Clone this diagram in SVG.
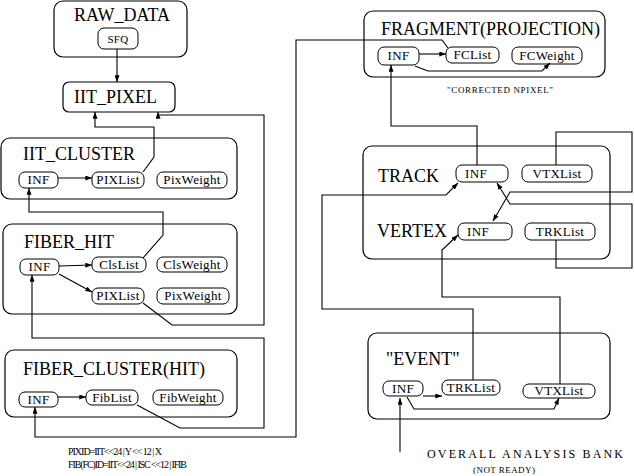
<svg xmlns="http://www.w3.org/2000/svg" width="634" height="476" viewBox="0 0 634 476">
<style>
.box{fill:none;stroke:#000;stroke-width:1.2}
.pill{fill:none;stroke:#000;stroke-width:1}
.t{font-family:"Liberation Serif","Times New Roman",serif;font-size:18px;fill:#000}
.s{font-family:"Liberation Serif","Times New Roman",serif;font-size:13px;fill:#000;text-anchor:middle;letter-spacing:0.3px}
.n{font-family:"Liberation Serif","Times New Roman",serif;font-size:10px;fill:#000}
.c{fill:none;stroke:#000;stroke-width:1.1}
.a{marker-end:url(#ah)}
</style>
<defs>
<marker id="ah" viewBox="0 0 8 6" refX="8" refY="3" markerWidth="7" markerHeight="5" markerUnits="userSpaceOnUse" orient="auto">
<path d="M0,0 L8,3 L0,6 z" fill="#000"/>
</marker>
</defs>
<rect width="634" height="476" fill="#fff"/>

<g id="connectors">
<path class="c a" d="M117,49 V82"/>
<path class="c a" d="M143,172 L154,157 V127 H95 V112"/>
<path class="c a" d="M143,303 L172,325 H264 V115 H158 V112"/>
<path class="c a" d="M58,178 H92"/>
<path class="c a" d="M143,258 L163,235 V212 H29 V188"/>
<path class="c a" d="M59,266 L92,265"/>
<path class="c a" d="M59,274 L92,292"/>
<path class="c a" d="M137,405 L180,428 H264 V338 H32 V275"/>
<path class="c a" d="M58,397 H86"/>
<path class="c a" d="M448,48 L442,40 H296 V437 H35 V407"/>
<path class="c a" d="M419,54 H446"/>
<path class="c a" d="M415,66 L428,71 H542 L550,63"/>
<path class="c a" d="M477,165 V126 H391 V65"/>
<path class="c a" d="M473,380 V309 H322 V195 H446 L458,183"/>
<path class="c a" d="M560,384 V297 H442 V250 L458,235"/>
<path class="c a" d="M556,165 V132 H632 V192 H510 L493,221"/>
<path class="c a" d="M556,240 V268 H632 V204 H510 L497,183"/>
<path class="c a" d="M423,396 H442"/>
<path class="c a" d="M407,397 L414,409 H554 L559,398"/>
<path class="c a" d="M400,452 V398"/>
</g>

<g id="raw_data">
<rect class="box" x="54" y="1" width="133" height="56" rx="9"/>
<text class="t" x="122" y="21" text-anchor="middle">RAW_DATA</text>
<rect class="pill" x="98" y="28" width="40" height="21" rx="6"/>
<text class="s" x="118" y="43" style="font-size:11px">SFQ</text>
</g>

<g id="iit_pixel">
<rect class="box" x="63" y="82" width="112" height="30" rx="6"/>
<text class="t" x="74" y="103">IIT_PIXEL</text>
</g>

<g id="iit_cluster">
<rect class="box" x="1" y="138" width="236" height="61" rx="9"/>
<text class="t" x="23" y="160">IIT_CLUSTER</text>
<rect class="pill" x="19" y="172" width="39" height="16" rx="6"/>
<text class="s" x="38.5" y="184">INF</text>
<rect class="pill" x="92" y="172" width="52" height="16" rx="6"/>
<text class="s" x="118" y="184">PIXList</text>
<rect class="pill" x="157" y="172" width="70" height="16" rx="6"/>
<text class="s" x="192" y="184">PixWeight</text>
</g>

<g id="fiber_hit">
<rect class="box" x="3" y="224" width="234" height="90" rx="9"/>
<text class="t" x="24" y="248">FIBER_HIT</text>
<rect class="pill" x="20" y="259" width="39" height="16" rx="6"/>
<text class="s" x="39.5" y="271">INF</text>
<rect class="pill" x="92" y="257" width="54" height="15" rx="6"/>
<text class="s" x="119" y="269">ClsList</text>
<rect class="pill" x="157" y="257" width="70" height="15" rx="6"/>
<text class="s" x="192" y="269">ClsWeight</text>
<rect class="pill" x="92" y="288" width="52" height="16" rx="6"/>
<text class="s" x="118" y="300">PIXList</text>
<rect class="pill" x="157" y="288" width="72" height="16" rx="6"/>
<text class="s" x="193" y="300">PixWeight</text>
</g>

<g id="fiber_cluster">
<rect class="box" x="5" y="350" width="232" height="67" rx="9"/>
<text class="t" x="23" y="375">FIBER_CLUSTER(HIT)</text>
<rect class="pill" x="19" y="392" width="39" height="15" rx="6"/>
<text class="s" x="38.5" y="404">INF</text>
<rect class="pill" x="86" y="390" width="52" height="15" rx="6"/>
<text class="s" x="112" y="402">FibList</text>
<rect class="pill" x="153" y="390" width="70" height="15" rx="6"/>
<text class="s" x="188" y="402">FibWeight</text>
</g>

<g id="fragment">
<rect class="box" x="364" y="11" width="241" height="66" rx="9"/>
<text class="t" x="381" y="35">FRAGMENT(PROJECTION)</text>
<rect class="pill" x="378" y="47" width="41" height="18" rx="6"/>
<text class="s" x="398.5" y="60">INF</text>
<rect class="pill" x="446" y="47" width="53" height="16" rx="6"/>
<text class="s" x="472.5" y="59">FCList</text>
<rect class="pill" x="512" y="47" width="70" height="17" rx="6"/>
<text class="s" x="547" y="60">FCWeight</text>
</g>
<text class="n" x="447" y="93" style="font-size:9px" textLength="106" lengthAdjust="spacing">"CORRECTED NPIXEL"</text>

<g id="track_vertex">
<rect class="box" x="363" y="146" width="247" height="113" rx="9"/>
<text class="t" x="378" y="182">TRACK</text>
<rect class="pill" x="456" y="165" width="52" height="17" rx="6"/>
<text class="s" x="476" y="178">INF</text>
<rect class="pill" x="522" y="165" width="70" height="17" rx="6"/>
<text class="s" x="557" y="178">VTXList</text>
<text class="t" x="377" y="237">VERTEX</text>
<rect class="pill" x="458" y="223" width="54" height="17" rx="6"/>
<text class="s" x="478" y="236">INF</text>
<rect class="pill" x="525" y="223" width="70" height="17" rx="6"/>
<text class="s" x="560" y="236">TRKList</text>
</g>

<g id="event">
<rect class="box" x="368" y="333" width="242" height="86" rx="9"/>
<text class="t" x="386" y="365">"EVENT"</text>
<rect class="pill" x="383" y="381" width="40" height="15" rx="6"/>
<text class="s" x="403" y="393">INF</text>
<rect class="pill" x="442" y="380" width="58" height="15" rx="6"/>
<text class="s" x="471" y="392">TRKList</text>
<rect class="pill" x="523" y="384" width="72" height="14" rx="6"/>
<text class="s" x="559" y="395">VTXList</text>
</g>

<text class="n" x="427" y="458" style="font-size:12px" textLength="196" lengthAdjust="spacing">OVERALL ANALYSIS BANK</text>
<text class="n" x="473" y="473" style="font-size:9px" textLength="62" lengthAdjust="spacing">(NOT READY)</text>
<text class="n" x="68" y="455" textLength="94" lengthAdjust="spacing">PIXID=IIT&lt;&lt;24 | Y &lt;&lt; 12 | X</text>
<text class="n" x="68" y="468" textLength="119" lengthAdjust="spacing">FIB(FC)ID=IIT&lt;&lt;24 | ISC &lt;&lt;12 | IFIB</text>
</svg>
